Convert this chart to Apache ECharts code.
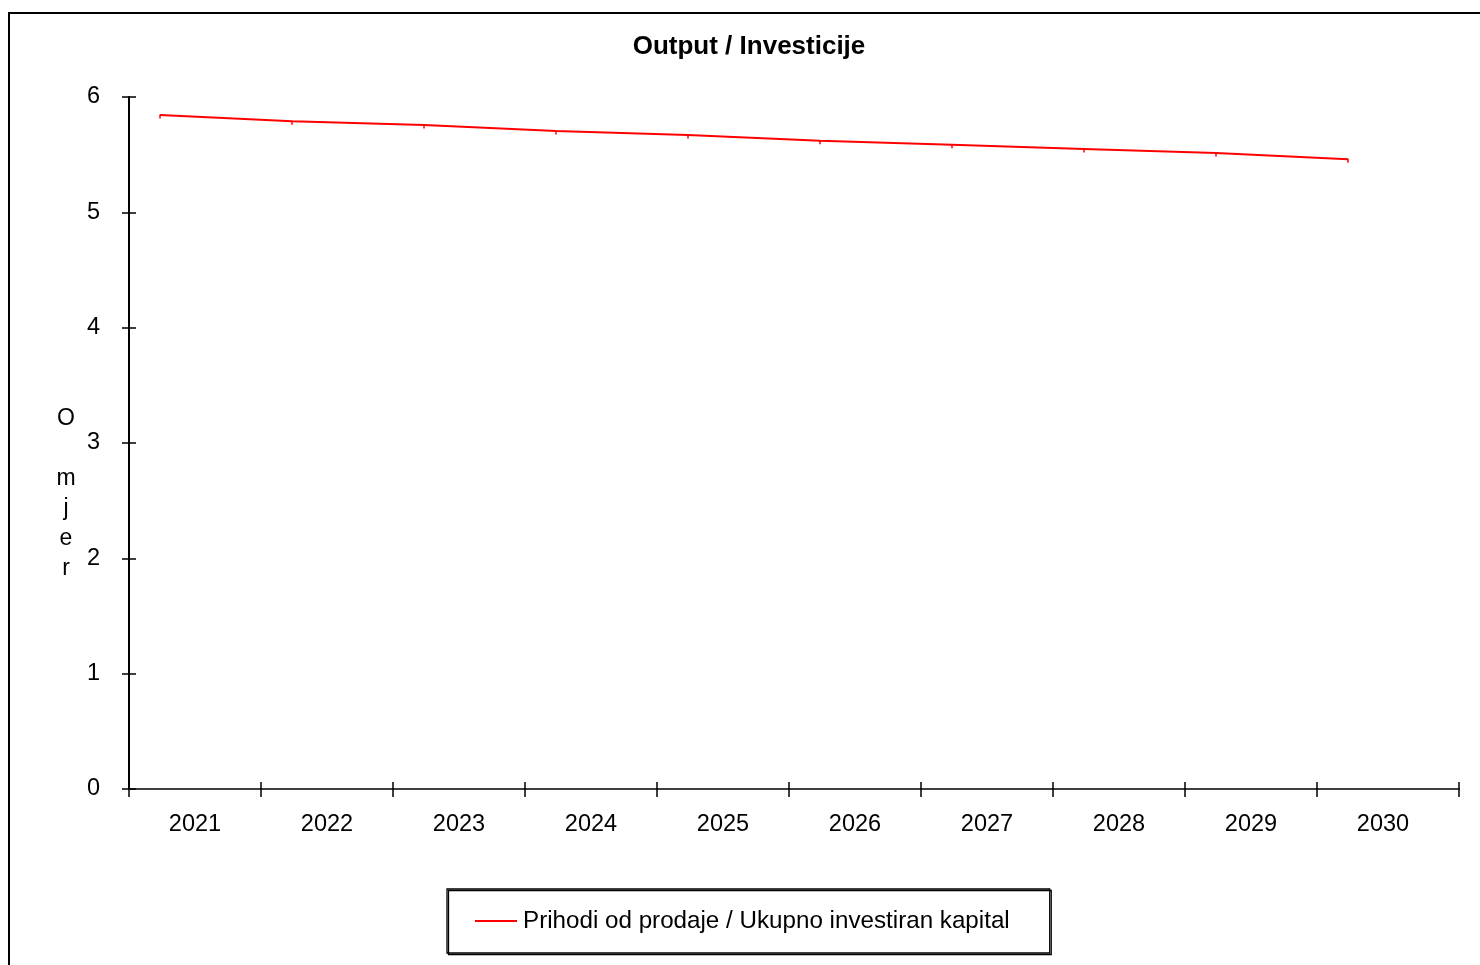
<!DOCTYPE html>
<html>
<head>
<meta charset="utf-8">
<script src="https://cdn.jsdelivr.net/npm/echarts@6/dist/echarts.min.js"></script>
<style>
  html, body { margin: 0; padding: 0; background: #fff; }
  #chart { width: 1480px; height: 965px; }
</style>
</head>
<body>
<div id="chart"></div>
<script>
// Godine i omjer prihoda od prodaje prema ukupno investiranom kapitalu
const years = ['2021', '2022', '2023', '2024', '2025', '2026', '2027', '2028', '2029', '2030'];
const ratio = [5.845, 5.79, 5.757, 5.705, 5.67, 5.62, 5.585, 5.55, 5.515, 5.46];
const seriesName = 'Prihodi od prodaje / Ukupno investiran kapital';
const titleText = 'Output / Investicije';
const yAxisLetters = ['O', '', 'm', 'j', 'e', 'r'];

const FONT = 'Liberation Sans, Arial, sans-serif';

// category slots along x: axis runs a little past the last slot
const axisSpan = 10.076;                 // in slot units
const pointShift = 0.235;                // points sit left of slot centre
const tickValues = years.map((_, i) => i).concat([axisSpan]);
const labelValues = years.map((_, i) => i + 0.5);

const chart = echarts.init(document.getElementById('chart'), null, { renderer: 'canvas' });

const points = years.map((y, i) => [i + pointShift, ratio[i]]);

const tickAxisBase = {
  type: 'value', position: 'bottom', min: 0, max: axisSpan,
  splitLine: { show: false }
};

chart.setOption({
  animation: false,
  backgroundColor: '#fff',
  title: {
    text: titleText,
    left: 744, top: 29, textAlign: 'center',
    textStyle: { fontFamily: FONT, fontSize: 26, fontWeight: 'bold', color: '#000' }
  },
  grid: { left: 129, top: 97, right: 21, bottom: 176, containLabel: false },
  legend: {
    left: 447, top: 889,
    padding: [20, 40, 20, 28],
    itemGap: 0,
    itemWidth: 42, itemHeight: 2,
    icon: 'rect',
    borderColor: '#000', borderWidth: 1.3, borderRadius: 0,
    shadowColor: '#000', shadowOffsetX: 1.5, shadowOffsetY: 1.5, shadowBlur: 0,
    textStyle: { fontFamily: FONT, fontSize: 24.2, color: '#000', padding: [0, 0, 0, 1] },
    data: [seriesName]
  },
  xAxis: [
    Object.assign({}, tickAxisBase, {
      axisLine: { show: true, onZero: false, lineStyle: { color: '#000', width: 1.5 } },
      axisTick: { show: true, length: 8, customValues: tickValues, lineStyle: { color: '#000', width: 1.5 } },
      axisLabel: {
        show: true, customValues: labelValues,
        formatter: v => years[Math.floor(v)],
        fontFamily: FONT, fontSize: 23.5, color: '#000', margin: 24
      }
    }),
    Object.assign({}, tickAxisBase, {
      axisLine: { show: false },
      axisTick: { show: true, inside: true, length: 7, customValues: tickValues, lineStyle: { color: '#000', width: 1.5 } },
      axisLabel: { show: false }
    })
  ],
  yAxis: [
    {
      type: 'value', min: 0, max: 6, interval: 1,
      axisLine: { show: true, lineStyle: { color: '#000', width: 2 } },
      axisTick: { show: true, length: 7, lineStyle: { color: '#000', width: 1.5 } },
      axisLabel: { fontFamily: FONT, fontSize: 23.5, color: '#000', margin: 29 },
      splitLine: { show: false }
    },
    {
      type: 'value', min: 0, max: 6, interval: 1, position: 'left',
      axisLine: { show: false },
      axisTick: { show: true, inside: true, length: 7, lineStyle: { color: '#000', width: 1.5 } },
      axisLabel: { show: false },
      splitLine: { show: false }
    }
  ],
  series: [
    {
      name: seriesName,
      type: 'line',
      xAxisIndex: 0, yAxisIndex: 0,
      data: points,
      color: '#ff0000',
      lineStyle: { color: '#ff0000', width: 2 },
      symbol: 'rect', symbolSize: [1.5, 4], symbolOffset: [0, 1.5],
      showSymbol: true,
      itemStyle: { color: '#ff0000' },
      emphasis: { disabled: true }
    }
  ],
  graphic: [
    {
      // outer frame
      type: 'rect', silent: true,
      shape: { x: 9, y: 13, width: 1600, height: 1100 },
      style: { fill: null, stroke: '#000', lineWidth: 2 }
    },
    {
      type: 'text', silent: true,
      x: 66, y: 404,
      style: {
        text: yAxisLetters.join('\n'),
        fontFamily: FONT, fontSize: 23, lineHeight: 30,
        fill: '#000', align: 'center', verticalAlign: 'top'
      }
    }
  ]
});
</script>
</body>
</html>
